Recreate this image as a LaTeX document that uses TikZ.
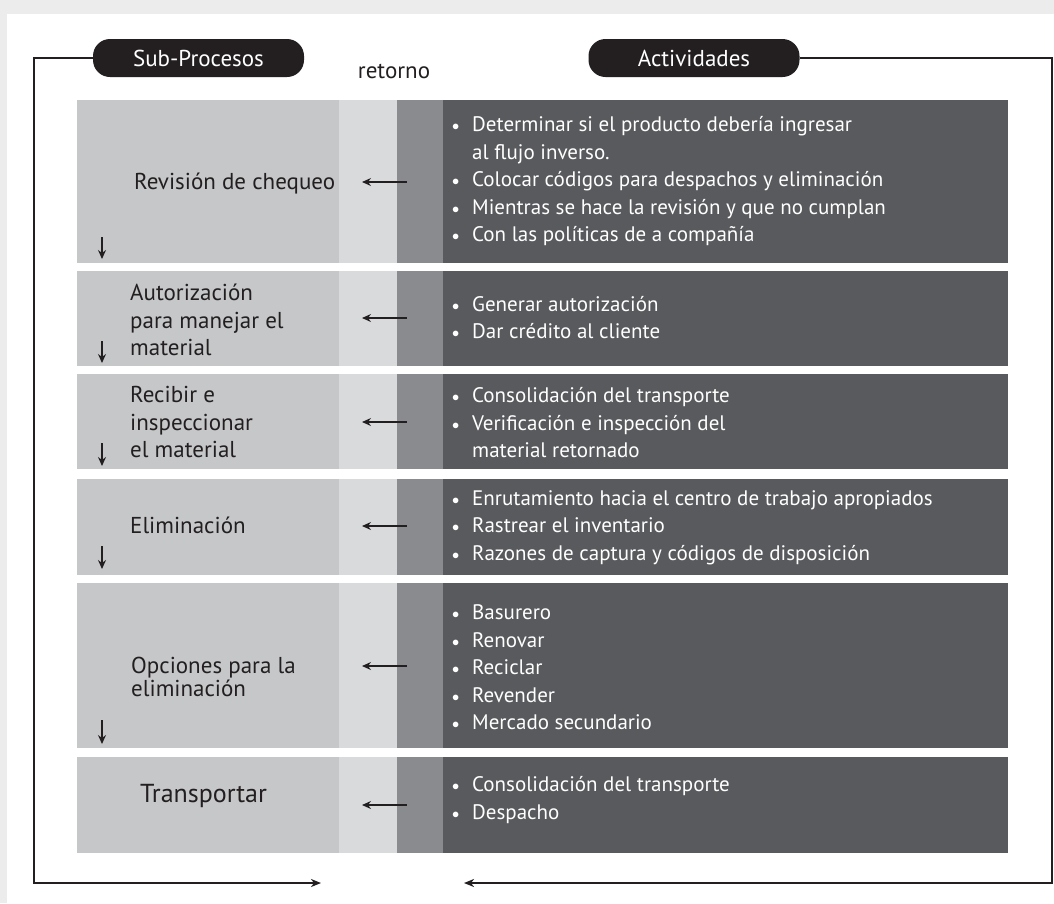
\documentclass[tikz,border=0pt]{standalone}
\usepackage{fontspec}
\setmainfont{PT Sans}
\usetikzlibrary{arrows.meta}
\definecolor{ca}{RGB}{198,199,201}
\definecolor{cb}{RGB}{217,218,220}
\definecolor{cc}{RGB}{138,139,142}
\definecolor{cd}{RGB}{89,90,93}
\definecolor{ink}{RGB}{35,31,32}
\definecolor{bggray}{RGB}{236,236,236}
\newcommand{\bl}{\makebox[20pt][l]{\raisebox{1pt}{\fontsize{15}{15}\selectfont$\bullet$}}}
\newcommand{\ind}{\hspace*{20pt}}
\begin{document}
\begin{tikzpicture}[x=1pt,y=-1pt,
  txt/.style={font=\fontsize{23}{27.5}\selectfont, text=ink, align=left, anchor=west, inner sep=0pt},
  wtxt/.style={txt, font=\fontsize{21}{27.5}\selectfont, text=white},
  pill/.style={fill=ink, rounded corners=17pt, minimum width=211pt, minimum height=38pt, text=white, font=\fontsize{23}{25}\selectfont, inner sep=0pt},
  frame/.style={line width=1.8pt, draw=ink},
  tip/.style={-{Stealth[length=10pt,width=8pt,inset=3pt]}},
  ret/.style={-{Stealth[length=9pt,width=8pt,inset=3pt]}, line width=1.4pt, draw=ink},
]
\fill[bggray] (0,0) rectangle (1054,903);
\fill[white] (7,14) rectangle (1054,903);
\useasboundingbox (0,0) rectangle (1054,903);

% table rows
\foreach \t/\b in {100/263, 271/366, 374/469, 479/575, 583/748, 757/853}{
  \fill[ca] (77,\t) rectangle (339,\b);
  \fill[cb] (339,\t) rectangle (397,\b);
  \fill[cc] (397,\t) rectangle (443,\b);
  \fill[cd] (443,\t) rectangle (1008,\b);
}

% headers
\node[pill] (sp) at (198.5,58) {Sub-Procesos};
\node[pill] (ac) at (694,58) {Actividades};
\node[txt, anchor=center] (rt) at (394,71) {retorno};

% frame
\coordinate (lt) at (34,58);
\coordinate (lb) at (34,883);
\coordinate (le) at (321,883);
\coordinate (rtop) at (1052,58);
\coordinate (rb) at (1052,883);
\coordinate (re) at (464,883);
\draw[frame, tip] (sp.west) -- (lt) -- (lb) -- (le);
\draw[frame, tip] (ac.east) -- (rtop) -- (rb) -- (re);

% left texts
\node[txt] (s1) at (134,184) {Revisión de chequeo};
\node[txt] (s2) at (130,320) {Autorización\\para manejar el\\material};
\node[txt] (s3) at (130,422) {Recibir e\\inspeccionar\\el material};
\node[txt] (s4) at (130,525) {Eliminación};
\node[txt, font=\fontsize{23}{23}\selectfont] (s5) at (131,677) {Opciones para la\\eliminación};
\node[txt, font=\fontsize{26}{28}\selectfont] (s6) at (140,796) {Transportar};

% right texts
\node[wtxt] (a1) at (452,181.5) {\bl Determinar si el producto debería ingresar\\\ind al flujo inverso.\\\bl Colocar códigos para despachos y eliminación\\\bl Mientras se hace la revisión y que no cumplan\\\bl Con las políticas de a compañía};
\node[wtxt] (a2) at (452,317.5) {\bl Generar autorización\\\bl Dar crédito al cliente};
\node[wtxt] (a3) at (452,423) {\bl Consolidación del transporte\\\bl Verificación e inspección del\\\ind material retornado};
\node[wtxt] (a4) at (452,527.5) {\bl Enrutamiento hacia el centro de trabajo apropiados\\\bl Rastrear el inventario\\\bl Razones de captura y códigos de disposición};
\node[wtxt] (a5) at (452,667.5) {\bl Basurero\\\bl Renovar\\\bl Reciclar\\\bl Revender\\\bl Mercado secundario};
\node[wtxt] (a6) at (452,800) {\bl Consolidación del transporte\\\bl Despacho};

% return arrows
\foreach \i/\y in {1/182, 2/318, 3/422, 4/526, 5/666, 6/805}{
  \coordinate (hs\i) at (407,\y);
  \coordinate (he\i) at (362,\y);
  \draw[ret] (hs\i) -- (he\i);
}

% down arrows
\foreach \i/\a/\b in {1/237/259, 2/341/363, 3/443/466, 4/546/569, 5/720/744}{
  \coordinate (ds\i) at (102,\a);
  \coordinate (de\i) at (102,\b);
  \draw[ret] (ds\i) -- (de\i);
}
\end{tikzpicture}
\end{document}
